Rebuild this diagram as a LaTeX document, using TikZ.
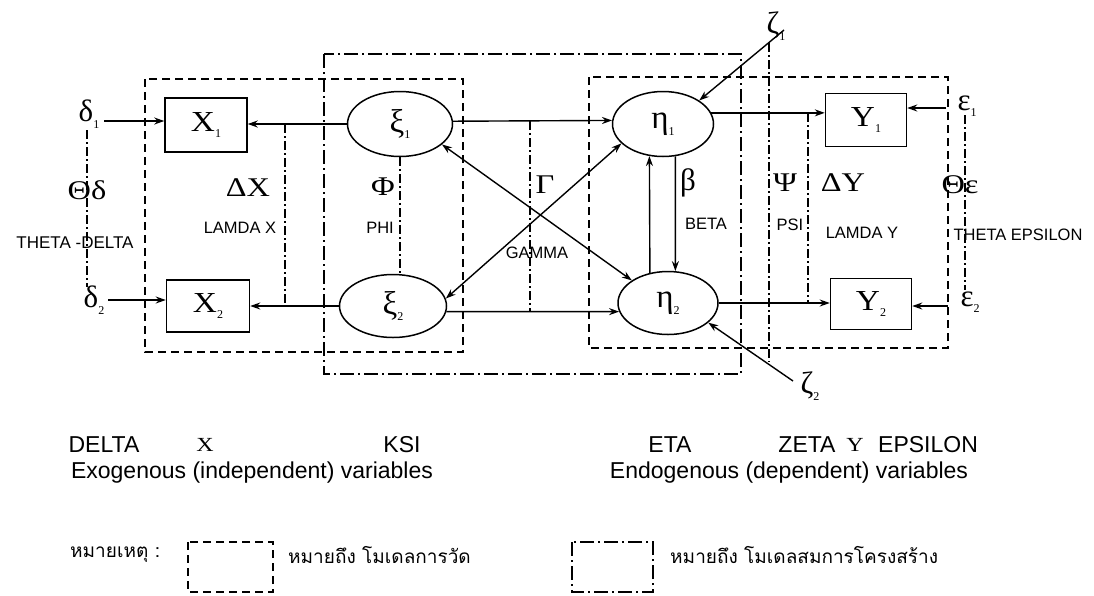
\documentclass[tikz,border=0pt]{standalone}
\usepackage{fontspec}
\setmainfont{Liberation Serif}
\setsansfont{Liberation Sans}
\newfontfamily\thaifont[Script=Thai]{Loma}
\usetikzlibrary{shapes.geometric,arrows.meta}
\newcommand{\mysub}[1]{\raisebox{-0.45ex}{\fontsize{12}{12}\selectfont #1}}
\newcommand{\wide}[1]{\scalebox{1.15}[1]{#1}}
\tikzset{
  arr/.style={line width=1.4pt, -{Stealth[length=10pt,width=7pt]}},
  darr/.style={line width=1.4pt, {Stealth[length=10pt,width=7pt]}-{Stealth[length=10pt,width=7pt]}},
  meas/.style={line width=1.8pt, dash pattern=on 8pt off 5pt},
  struc/.style={line width=1.3pt, dash pattern=on 14pt off 4pt on 2pt off 4pt},
  corr/.style={line width=1.3pt, dash pattern=on 9pt off 3pt on 2pt off 3pt},
  bx/.style={draw, line width=1.5pt, rectangle, inner sep=0pt, fill=white, font=\fontsize{29}{30}\selectfont},
  el/.style={draw, line width=1.5pt, ellipse, inner sep=0pt, fill=white, font=\fontsize{33}{34}\selectfont},
  glab/.style={font=\fontsize{27}{30}\selectfont, inner sep=1pt},
  elab/.style={font=\fontsize{31}{32}\selectfont, inner sep=1pt},
  slab/.style={font=\sffamily\fontsize{16.5}{18}\selectfont, inner sep=1pt},
  btxt/.style={font=\sffamily\fontsize{23}{25}\selectfont, inner sep=0pt},
  ttxt/.style={font=\thaifont\fontsize{19}{22}\selectfont, inner sep=0pt},
}
\begin{document}
\begin{tikzpicture}[x=1pt,y=-1pt]
\useasboundingbox (0,0) rectangle (1094,595);

% measurement (dashed) and structural (dash-dot) frames
\draw[meas] (145,79) rectangle (463,352);
\draw[meas] (589,77) rectangle (948,348);
\draw[struc] (324,54) rectangle (741,374);

% latent and observed variables
\node[bx, minimum width=82pt, minimum height=54pt] (X1) at (206,125) {\wide{X}\mysub{1}};
\node[bx, minimum width=83pt, minimum height=52pt] (X2) at (208,306) {\wide{X}\mysub{2}};
\node[bx, minimum width=81pt, minimum height=53pt] (Y1) at (866,120) {\wide{Y}\mysub{1}};
\node[bx, minimum width=81pt, minimum height=51pt] (Y2) at (871,304) {\wide{Y}\mysub{2}};
\node[el, minimum width=105pt, minimum height=65pt] (xi1) at (400,124) {ξ\mysub{1}};
\node[el, minimum width=107pt, minimum height=63pt] (xi2) at (393,306) {ξ\mysub{2}};
\node[el, minimum width=101pt, minimum height=65pt] (eta1) at (663,124) {η\mysub{1}};
\node[el, minimum width=100pt, minimum height=63pt] (eta2) at (668,303) {η\mysub{2}};

% error terms
\node[elab] (d1) at (89,114) {δ\mysub{1}};
\node[elab] (d2) at (94,300) {δ\mysub{2}};
\node[elab] (e1) at (967,106) {ε\mysub{1}};
\node[elab] (e2) at (970,302) {ε\mysub{2}};
\node[elab] (z1) at (776,26) {ζ\mysub{1}};
\node[elab] (z2) at (810,386) {ζ\mysub{2}};
\coordinate (d1a) at (104,121);
\coordinate (d2a) at (108,300);
\coordinate (e1a) at (946,108);
\coordinate (e2a) at (948,306);
\coordinate (z1a) at (784,30);
\coordinate (z2a) at (793,381);

\draw[arr] (d1a) -- (d1a -| X1.west);
\draw[arr] (d2a) -- (d2a -| X2.west);
\draw[arr] (e1a) -- (e1a -| Y1.east);
\draw[arr] (e2a) -- (e2a -| Y2.east);
\draw[arr] (z1a) -- (eta1.33);
\draw[arr] (z2a) -- (eta2.-26.6);

% loadings
\draw[arr] (xi1.west) -- (xi1.west -| X1.east);
\draw[arr] (xi2.west) -- (xi2.west -| X2.east);
\draw[arr] (eta1.13) -- (eta1.13 -| Y1.west);
\draw[arr] (eta2.east) -- (eta2.east -| Y2.west);

% structural paths
\draw[arr] (xi1.3) -- (eta1.176.6);
\draw[arr] (xi2.-6.5) -- (eta2.190.6);
\draw[darr] (xi1.-26.6) -- (eta2.148.8);
\draw[darr] (xi2.8) -- (eta1.205);
\draw[arr] (eta2.121.5) -- (eta1.247.5);
\draw[arr] (eta1.-69.2) -- (eta2.77.4);

% matrices (dash-dot)
\coordinate (td1) at (87,130); \coordinate (td2) at (87,287);
\coordinate (lx1) at (285,124); \coordinate (lx2) at (285,306);
\coordinate (g1) at (530,121); \coordinate (g2) at (530,312);
\coordinate (p1) at (769,43); \coordinate (p2) at (769,362);
\coordinate (ly1) at (808,113); \coordinate (ly2) at (808,304);
\coordinate (te1) at (965,115); \coordinate (te2) at (965,290);
\draw[corr] (td1) -- (td2);
\draw[corr] (lx1) -- (lx2);
\draw[corr] (xi1.south) -- (xi1.south |- xi2.north);
\draw[corr] (g1) -- (g2);
\draw[corr] (p1) -- (p2);
\draw[corr] (ly1) -- (ly2);
\draw[corr] (te1) -- (te2);

% matrix labels
\node[glab] (lTd) at (87,190) {\scalebox{1.2}[1]{Θδ}};
\node[slab, font=\sffamily\fontsize{17}{18}\selectfont] (tTd) at (75,243) {THETA -DELTA};
\node[glab] (lDX) at (248,188) {\scalebox{1.2}[1]{ΔX}};
\node[slab] (tDX) at (240,228) {LAMDA X};
\node[glab] (lPhi) at (383,187) {\scalebox{1.2}[1]{Φ}};
\node[slab] (tPhi) at (380,228) {PHI};
\node[glab] (lG) at (545,185) {\scalebox{1.2}[1]{Γ}};
\node[slab] (tG) at (537,253) {GAMMA};
\node[glab, font=\fontsize{31}{32}\selectfont] (lB) at (688,183) {β};
\node[slab] (tB) at (706,224) {BETA};
\node[glab] (lPsi) at (785,183) {\scalebox{1.2}[1]{Ψ}};
\node[slab] (tPsi) at (790,225) {PSI};
\node[glab] (lDY) at (843,183) {\scalebox{1.2}[1]{ΔY}};
\node[slab] (tDY) at (862,233) {LAMDA Y};
\node[glab] (lTe) at (960,185) {\scalebox{1.2}[1]{Θε}};
\node[slab] (tTe) at (1018,235) {THETA EPSILON};

% bottom captions
\node[btxt] (bDelta) at (104,445) {DELTA};
\node[btxt, font=\fontsize{20}{22}\selectfont] (bX) at (205,445) {\scalebox{1.2}[1]{X}};
\node[btxt] (bKsi) at (402,445) {KSI};
\node[btxt] (bEta) at (670,445) {ETA};
\node[btxt] (bZeta) at (807,445) {ZETA};
\node[btxt, font=\fontsize{20}{22}\selectfont] (bY) at (855,445) {\scalebox{1.2}[1]{Y}};
\node[btxt] (bEps) at (928,445) {EPSILON};
\node[btxt] (bExo) at (252,473) {Exogenous (independent) variables};
\node[btxt] (bEndo) at (789,473) {Endogenous (dependent) variables};

% legend
\node[ttxt, anchor=west] (note) at (70,555) {หมายเหตุ :};
\draw[meas, line width=1.5pt] (188,542) rectangle (273,592);
\node[ttxt, anchor=west] (leg1) at (288,555) {หมายถึง โมเดลการวัด};
\draw[struc] (572,542) rectangle (653,592);
\node[ttxt, anchor=west] (leg2) at (670,555) {หมายถึง โมเดลสมการโครงสร้าง};
\end{tikzpicture}
\end{document}
